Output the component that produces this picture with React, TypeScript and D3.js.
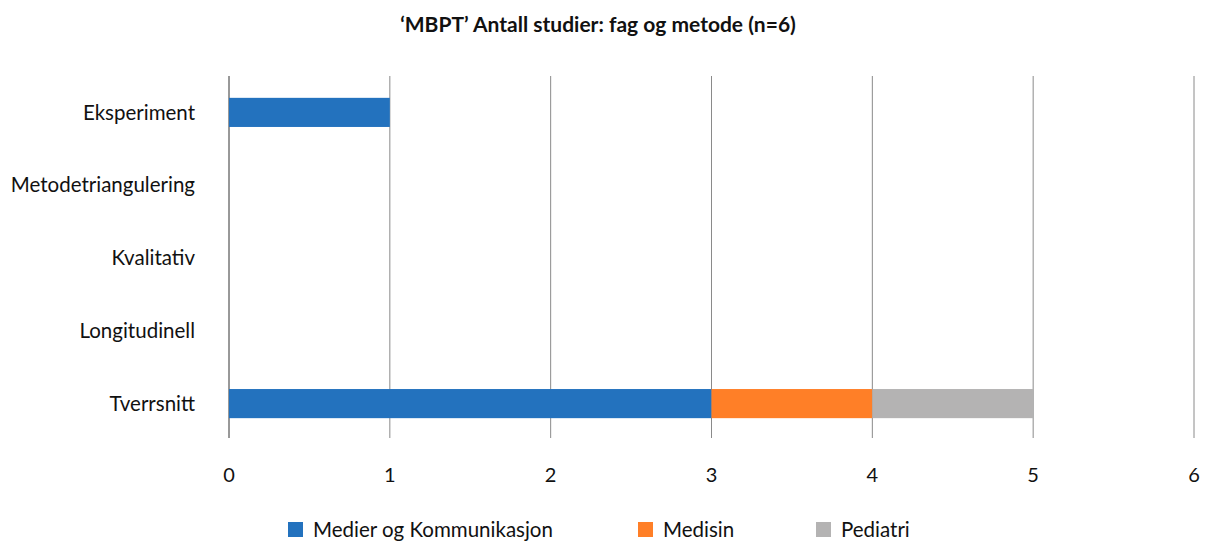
import React from "react";
import * as d3 from "d3";

const categories = ["Eksperiment", "Metodetriangulering", "Kvalitativ", "Longitudinell", "Tverrsnitt"];
const seriesNames = ["Medier og Kommunikasjon", "Medisin", "Pediatri"];
const medier = [1, 0, 0, 0, 3];
const medisin = [0, 0, 0, 0, 1];
const pediatri = [0, 0, 0, 0, 1];
const xTicks = [0, 1, 2, 3, 4, 5, 6];
const colors = ["#2372BE", "#FF7F27", "#B4B3B3"];

const W = 1207, H = 542;
const FONT = "Lato, 'Open Sans', sans-serif";

export default function App() {
  const x = d3.scaleLinear().domain([0, 6]).range([229, 1194]);
  const y = d3.scaleBand<string>().domain(categories).range([76, 440]).paddingInner(0.6).paddingOuter(0.3);
  const rows = categories.map((c, i) => ({ cat: c, medier: medier[i], medisin: medisin[i], pediatri: pediatri[i] }));
  const stack = d3.stack<any>().keys(["medier", "medisin", "pediatri"])(rows);
  const legendX = [288, 638, 816];
  return (
    <svg width={W} height={H} style={{ position: "absolute", left: 0, top: 0 }} fontFamily={FONT}>
      <text x={598} y={32} textAnchor="middle" fontSize={21} fontWeight="bold" fill="#111">‘MBPT’ Antall studier: fag og metode (n=6)</text>
      {xTicks.map((t) => (
        <line key={t} x1={x(t)} x2={x(t)} y1={76} y2={438} stroke={t === 0 ? "#333" : "#8a8a8a"} strokeWidth={1} />
      ))}
      {stack.map((s, si) =>
        s.map((d, i) =>
          d[1] - d[0] > 0 ? (
            <rect key={si + "-" + i} x={x(d[0])} y={y(categories[i])!} width={x(d[1]) - x(d[0])} height={y.bandwidth()} fill={colors[si]} />
          ) : null
        )
      )}
      {categories.map((c) => (
        <text key={c} x={195} y={y(c)! + y.bandwidth() / 2} dy="0.35em" textAnchor="end" fontSize={20.5} fill="#111">{c}</text>
      ))}
      {xTicks.map((t) => (
        <text key={t} x={x(t)} y={482} textAnchor="middle" fontSize={20} fill="#111">{t}</text>
      ))}
      {seriesNames.map((n, i) => (
        <g key={n}>
          <rect x={legendX[i]} y={522} width={15} height={15} fill={colors[i]} />
          <text x={legendX[i] + 25} y={530} dy="0.35em" fontSize={20.5} fill="#111">{n}</text>
        </g>
      ))}
    </svg>
  );
}
